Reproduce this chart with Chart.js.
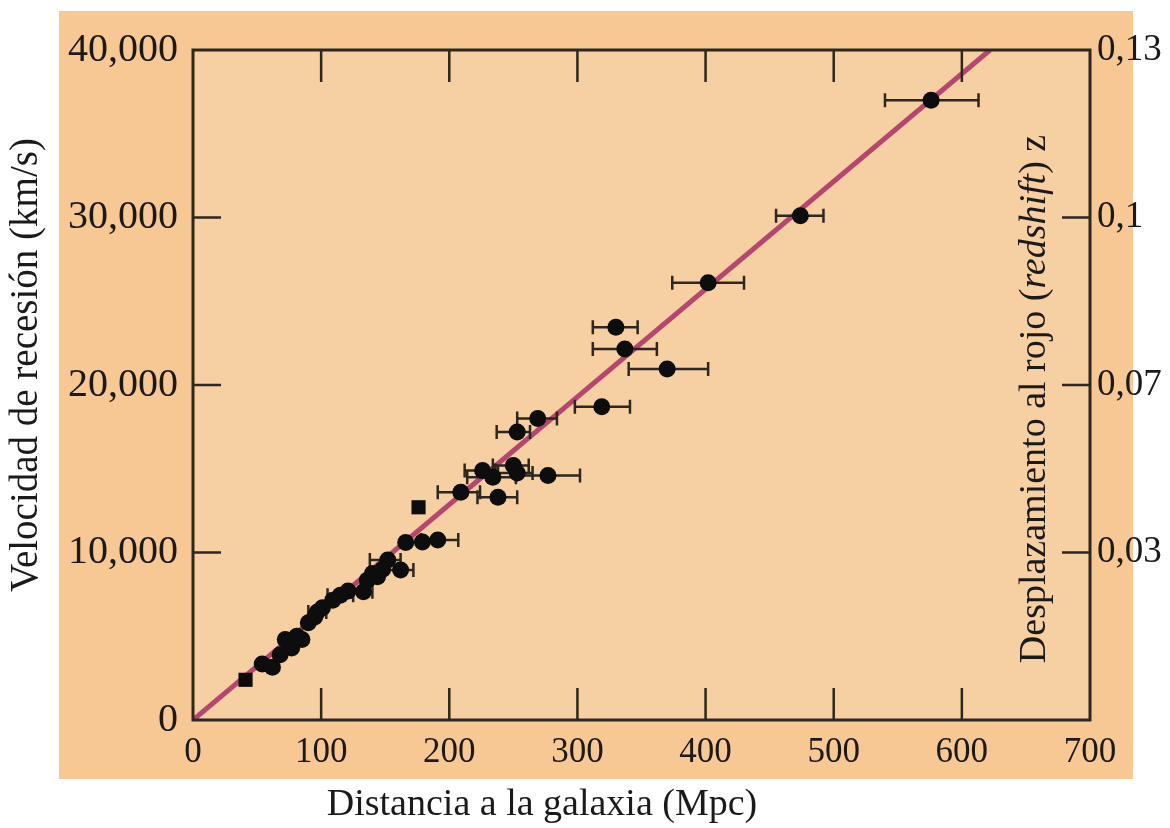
<!DOCTYPE html>
<html>
<head>
<meta charset="utf-8">
<title>Ley de Hubble</title>
<script src="https://cdn.jsdelivr.net/npm/chart.js@4.4.1/dist/chart.umd.min.js"></script>
<style>
  body { margin: 0; background: #fff; }
  #wrap { width: 1170px; height: 828px; position: relative; }
</style>
</head>
<body>
<div id="wrap"><canvas id="myChart"></canvas></div>
<script>
    // galaxias: distancia (Mpc), velocidad (km/s), extremos de la barra de error (Mpc)
    let distX = [576, 474, 402, 330, 337, 370, 319, 269, 253, 209, 238, 226, 234, 250, 253, 277,
                 191, 179, 166, 152, 162, 144, 136, 133, 115, 109, 97, 95, 90, 85, 72, 68, 62, 54,
                 81, 77, 101, 121, 140, 148];
    let velY  = [37000, 30100, 26100, 23450, 22150, 20950, 18700, 18000, 17200, 13600, 13300, 14900, 14500, 15200, 14750, 14600,
                 10750, 10630, 10600, 9550, 8950, 8550, 8350, 7650, 7450, 7150, 6450, 6150, 5800, 4800, 4800, 3900, 3150, 3350,
                 5000, 4300, 6700, 7700, 8750, 9000];
    let errLo = [540, 455, 374, 312, 312, 340, 298, 253, 237, 191, 222, 212, 214, 234, 238, 252,
                 178, null, null, 138, 150, null, null, 124, 105, null, 90, null, null, null, null, null, null, null,
                 null, null, null, null, null, null];
    let errHi = [613, 492, 430, 347, 362, 402, 341, 284, 263, 224, 253, 236, 252, 262, 265, 302,
                 207, null, null, 162, 172, null, null, 140, 125, null, 104, null, null, null, null, null, null, null,
                 null, null, null, null, null, null];

    // puntos cuadrados
    let sqX = [176, 41];
    let sqY = [12700, 2400];

    // recta de Hubble
    let fitX = [0, 622];
    let fitY = [0, 40000];

    let xTicks = [0, 100, 200, 300, 400, 500, 600, 700];
    let vTicks = [0, 10000, 20000, 30000, 40000];
    let zTicks = [10000, 20000, 30000, 40000];
    let zLabels = ['0,03', '0,07', '0,1', '0,13'];

    const serif = "'Liberation Serif', 'Times New Roman', serif";
    const ink = '#2e2620';
    const txt = '#1c1a18';

    function withComma(v) {
        return String(v).replace(/\B(?=(\d{3})+(?!\d))/g, ',');
    }

    const decor = {
        id: 'decor',
        beforeDraw(chart) {
            const c = chart.ctx, a = chart.chartArea;
            c.save();
            c.fillStyle = '#f7c894';
            c.fillRect(59, 11, 1074, 768);
            c.fillStyle = '#f6cfa3';
            c.fillRect(a.left, a.top, a.right - a.left, a.bottom - a.top);
            c.restore();
        },
        afterDatasetDraw(chart, args) {
            if (args.index !== 2) return;
            // barras de error horizontales
            const c = chart.ctx, xs = chart.scales.x, ys = chart.scales.y;
            c.save();
            c.strokeStyle = ink;
            c.lineWidth = 2.5;
            for (let i = 0; i < distX.length; i++) {
                if (errLo[i] == null) continue;
                const py = ys.getPixelForValue(velY[i]);
                const x1 = xs.getPixelForValue(errLo[i]);
                const x2 = xs.getPixelForValue(errHi[i]);
                c.beginPath();
                c.moveTo(x1, py); c.lineTo(x2, py);
                c.moveTo(x1, py - 7); c.lineTo(x1, py + 7);
                c.moveTo(x2, py - 7); c.lineTo(x2, py + 7);
                c.stroke();
            }
            c.restore();
        },
        afterDraw(chart) {
            const c = chart.ctx, a = chart.chartArea;
            const xs = chart.scales.x, ys = chart.scales.y;
            c.save();
            // marco
            c.strokeStyle = ink;
            c.lineWidth = 3;
            c.strokeRect(a.left, a.top, a.right - a.left, a.bottom - a.top);
            // marcas hacia dentro
            c.lineWidth = 2.5;
            c.beginPath();
            xTicks.slice(1, -1).forEach(v => {
                const px = xs.getPixelForValue(v);
                c.moveTo(px, a.bottom); c.lineTo(px, a.bottom - 32);
                c.moveTo(px, a.top); c.lineTo(px, a.top + 32);
            });
            vTicks.slice(1, -1).forEach(v => {
                const py = ys.getPixelForValue(v);
                c.moveTo(a.left, py); c.lineTo(a.left + 28, py);
                c.moveTo(a.right, py); c.lineTo(a.right - 28, py);
            });
            c.stroke();

            // títulos de ejes
            c.fillStyle = txt;
            c.textBaseline = 'middle';
            c.textAlign = 'center';
            c.font = '38px ' + serif;
            c.fillText('Distancia a la galaxia (Mpc)', 542, 805);

            c.save();
            c.translate(27, 365);
            c.rotate(-Math.PI / 2);
            c.font = '39px ' + serif;
            c.fillText('Velocidad de recesión (km/s)', 0, 0);
            c.restore();

            c.save();
            c.translate(1035, 399);
            c.rotate(-Math.PI / 2);
            const parts = [['Desplazamiento al rojo (', ''], ['redshift', 'italic '], [') z', '']];
            let total = 0;
            parts.forEach(p => { c.font = p[1] + '38px ' + serif; total += c.measureText(p[0]).width; });
            let x = -total / 2;
            c.textAlign = 'left';
            parts.forEach(p => {
                c.font = p[1] + '38px ' + serif;
                c.fillText(p[0], x, 0);
                x += c.measureText(p[0]).width;
            });
            c.restore();
            c.restore();
        }
    };

    var ctx = document.getElementById('myChart').getContext('2d');
    var myChart = new Chart(ctx, {
        type: 'scatter',
        data: {
            datasets: [{
                data: distX.map((x, i) => ({x: x, y: velY[i]})),
                pointRadius: 8.5,
                pointBackgroundColor: '#0d0d0d',
                pointBorderWidth: 0
            }, {
                data: sqX.map((x, i) => ({x: x, y: sqY[i]})),
                pointStyle: 'rect',
                pointRadius: 10,
                pointBackgroundColor: '#0d0d0d',
                pointBorderWidth: 0
            }, {
                data: fitX.map((x, i) => ({x: x, y: fitY[i]})),
                showLine: true,
                borderColor: '#b5476f',
                borderWidth: 5,
                pointRadius: 0
            }]
        },
        options: {
            responsive: true,
            maintainAspectRatio: false,
            animation: false,
            layout: {padding: {top: 50}},
            plugins: {legend: {display: false}, tooltip: {enabled: false}},
            scales: {
                x: {
                    type: 'linear', position: 'bottom', min: 0, max: 700,
                    afterBuildTicks: s => { s.ticks = xTicks.map(v => ({value: v})); },
                    afterFit: s => { s.height = 108; },
                    grid: {display: false, drawTicks: false},
                    border: {display: false},
                    ticks: {font: {family: serif, size: 35}, color: txt, padding: 12, maxRotation: 0, autoSkip: false}
                },
                y: {
                    position: 'left', min: 0, max: 40000,
                    afterBuildTicks: s => { s.ticks = vTicks.map(v => ({value: v})); },
                    afterFit: s => { s.width = 193; },
                    grid: {display: false, drawTicks: false},
                    border: {display: false},
                    ticks: {font: {family: serif, size: 40}, color: txt, padding: 15, callback: v => withComma(v)}
                },
                y2: {
                    position: 'right', min: 0, max: 40000,
                    afterBuildTicks: s => { s.ticks = zTicks.map(v => ({value: v})); },
                    afterFit: s => { s.width = 80; },
                    grid: {display: false, drawTicks: false},
                    border: {display: false},
                    ticks: {font: {family: serif, size: 37}, color: txt, padding: 7, callback: (v, i) => zLabels[i]}
                }
            }
        },
        plugins: [decor]
    });
</script>
</body>
</html>
